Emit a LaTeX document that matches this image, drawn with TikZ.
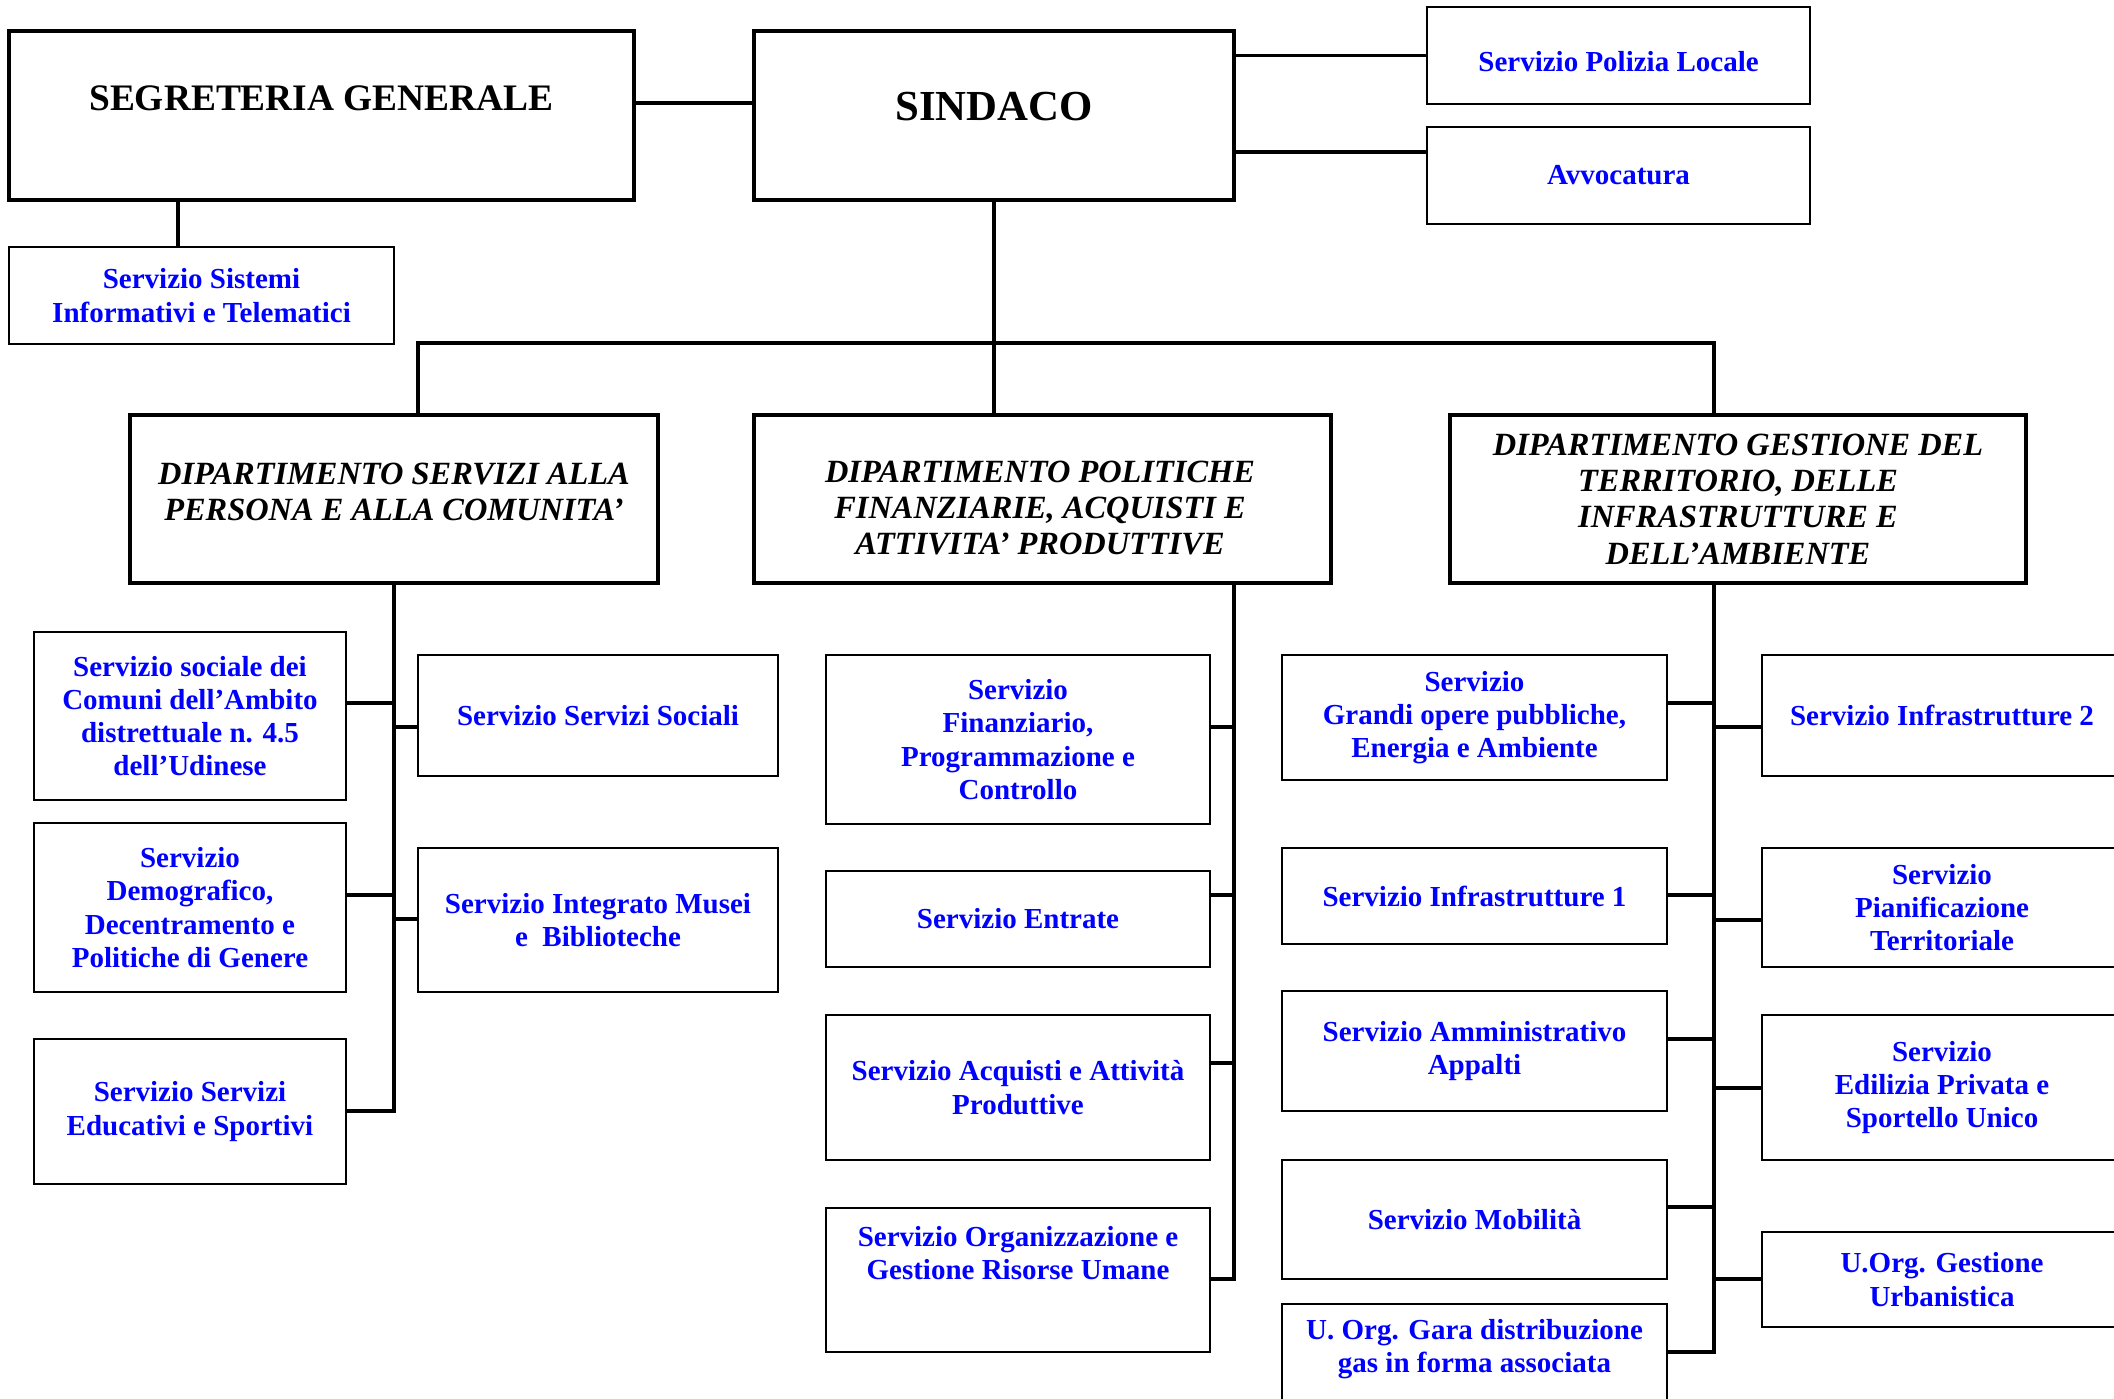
\documentclass[tikz,border=0pt]{standalone}
\usepackage{fontspec}
\setmainfont{Liberation Serif}
\usetikzlibrary{positioning}
\definecolor{blu}{RGB}{0,0,255}
\begin{document}
\begin{tikzpicture}[x=0.5pt,y=-0.5pt,line join=miter,
	cornice/.style={draw,line width=1.75pt,inner sep=0pt},
	titolo/.style={font=\bfseries\fontsize{18.7}{22}\selectfont},
	dip/.style={cornice,align=center,font=\bfseries\itshape\fontsize{16.2}{18.2}\selectfont},
	servtxt/.style={align=center,text=blu,inner sep=0pt,font=\bfseries\fontsize{14.5}{16.6}\selectfont},
	serv/.style={servtxt,draw,line width=1pt},
	linea/.style={line width=1.75pt,line cap=rect}]
	\useasboundingbox (0,0) rectangle (2114,1398);
	\clip (0,0) rectangle (2114,1398);
	%Vertice
	\node[cornice,minimum width=312.5pt,minimum height=84.5pt] (segr) at (321.5,115.5) {};
	\node[titolo] (segrtxt) at (321.5,98) {SEGRETERIA GENERALE};
	\node[cornice,minimum width=240pt,minimum height=84.5pt] (sind) at (994,115.5) {};
	\node[font=\bfseries\fontsize{21.4}{25}\selectfont] (sindtxt) at (994,106.5) {SINDACO};
	\node[serv,minimum width=191.5pt,minimum height=48.5pt] (pol) at (1618.5,55.5) {};
	\node[servtxt] (poltxt) at (1618.5,62) {Servizio Polizia Locale};
	\node[serv,minimum width=191.5pt,minimum height=48.5pt] (avv) at (1618.5,175.5) {Avvocatura};
	\node[serv,minimum width=192.5pt,minimum height=48.5pt] (sist) at (201.5,295.5) {Servizio Sistemi\\Informativi e Telematici};
	%Dipartimenti
	\node[dip,minimum width=264pt,minimum height=84pt] (d1) at (394,499) {};
	\node[dip,draw=none] (d1txt) at (394,492) {DIPARTIMENTO SERVIZI ALLA\\PERSONA E ALLA COMUNITA’};
	\node[dip,minimum width=288.5pt,minimum height=84pt] (d2) at (1042.5,499) {};
	\node[dip,draw=none] (d2txt) at (1040,508) {DIPARTIMENTO POLITICHE\\FINANZIARIE, ACQUISTI E\\ATTIVITA’ PRODUTTIVE};
	\node[dip,minimum width=288pt,minimum height=84pt] (d3) at (1738,499) {DIPARTIMENTO GESTIONE DEL\\TERRITORIO, DELLE\\INFRASTRUTTURE E\\DELL’AMBIENTE};
	%Servizi del primo dipartimento
	\node[serv,minimum width=156pt,minimum height=84pt] (soc) at (190,716) {Servizio sociale dei\\Comuni dell’Ambito\\distrettuale n. 4.5\\dell’Udinese};
	\node[serv,minimum width=156pt,minimum height=84.5pt] (demo) at (190,907.5) {Servizio\\Demografico,\\Decentramento e\\Politiche di Genere};
	\node[serv,minimum width=156pt,minimum height=72.5pt] (educ) at (190,1111.5) {Servizio Servizi\\Educativi e Sportivi};
	\node[serv,minimum width=180pt,minimum height=60.5pt] (servsoc) at (598,715.5) {Servizio Servizi Sociali};
	\node[serv,minimum width=180pt,minimum height=72pt] (musei) at (598,920) {Servizio Integrato Musei\\e~~Biblioteche};
	%Servizi del secondo dipartimento
	\node[serv,minimum width=192pt,minimum height=84.5pt] (fin) at (1018,739.5) {Servizio\\Finanziario,\\Programmazione e\\Controllo};
	\node[serv,minimum width=192pt,minimum height=48pt] (entr) at (1018,919) {Servizio Entrate};
	\node[serv,minimum width=192pt,minimum height=72.5pt] (acq) at (1018,1087.5) {Servizio Acquisti e Attività\\Produttive};
	\node[serv,minimum width=192pt,minimum height=72pt] (org) at (1018,1280) {};
	\node[servtxt] (orgtxt) at (1018,1253) {Servizio Organizzazione e\\Gestione Risorse Umane};
	%Servizi del terzo dipartimento
	\node[serv,minimum width=192.5pt,minimum height=62.5pt] (grandi) at (1474.5,717.5) {Servizio\\Grandi opere pubbliche,\\Energia e Ambiente};
	\node[serv,minimum width=192.5pt,minimum height=48pt] (infra1) at (1474.5,896) {Servizio Infrastrutture 1};
	\node[serv,minimum width=192.5pt,minimum height=60pt] (ammin) at (1474.5,1051) {Servizio Amministrativo\\Appalti};
	\node[serv,minimum width=192.5pt,minimum height=59.5pt] (mobil) at (1474.5,1219.5) {Servizio Mobilità};
	\node[serv,minimum width=192.5pt,minimum height=72.5pt] (gara) at (1474.5,1376.5) {};
	\node[servtxt] (garatxt) at (1474.5,1349) {U. Org. Gara distribuzione\\gas in forma associata};
	\node[serv,minimum width=180pt,minimum height=60.5pt] (infra2) at (1942,715.5) {Servizio Infrastrutture 2};
	\node[serv,minimum width=180pt,minimum height=59.5pt] (pianif) at (1942,907.5) {Servizio\\Pianificazione\\Territoriale};
	\node[serv,minimum width=180pt,minimum height=72.5pt] (edil) at (1942,1087.5) {Servizio\\Edilizia Privata e\\Sportello Unico};
	\node[serv,minimum width=180pt,minimum height=47.5pt] (uorg) at (1942,1279.5) {U.Org. Gestione\\Urbanistica};
	%Collegamenti in alto
	\coordinate (h0) at (0,103);
	\coordinate (h1) at (0,152);
	\coordinate (v0) at (178,0);
	\draw[linea] (segr.east |- h0) -- (sind.west |- h0);
	\draw[linea] (sind.east |- pol.west) -- (pol.west);
	\draw[linea] (sind.east |- h1) -- (avv.west |- h1);
	\draw[linea] (segr.south -| v0) -- (sist.north -| v0);
	%Linea dei dipartimenti
	\coordinate (b1) at (418,343);
	\coordinate (b3) at (1714,343);
	\coordinate (s2) at (1234,0);
	\draw[linea] (sind.south) -- (d2.north -| sind.south);
	\draw[linea] (d1.north -| b1) -- (b1) -- (b3) -- (d3.north -| b3);
	%Colonne dei servizi
	\draw[linea] (d1.south) -- (d1.south |- 0,1111);
	\draw[linea] (d2.south -| s2) -- (s2 |- 0,1279);
	\draw[linea] (d3.south -| b3) -- (b3 |- 0,1352);
	\foreach \n/\y in {soc/703,demo/895,educ/1111} \draw[linea] (\n.east |- 0,\y) -- (d1.south |- 0,\y);
	\foreach \n/\y in {servsoc/727,musei/919} \draw[linea] (d1.south |- 0,\y) -- (\n.west |- 0,\y);
	\foreach \n/\y in {fin/727,entr/895,acq/1063,org/1279} \draw[linea] (\n.east |- 0,\y) -- (s2 |- 0,\y);
	\foreach \n/\y in {grandi/703,infra1/895,ammin/1039,mobil/1207,gara/1352} \draw[linea] (\n.east |- 0,\y) -- (b3 |- 0,\y);
	\foreach \n/\y in {infra2/727,pianif/920,edil/1088,uorg/1279} \draw[linea] (b3 |- 0,\y) -- (\n.west |- 0,\y);
\end{tikzpicture}
\end{document}
